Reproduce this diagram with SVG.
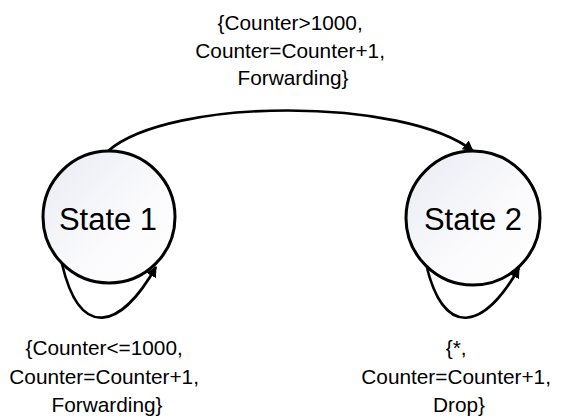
<svg xmlns="http://www.w3.org/2000/svg" width="563" height="419" viewBox="0 0 563 419">
  <defs>
    <linearGradient id="stateFill" x1="0" y1="0" x2="1" y2="1">
      <stop offset="0" stop-color="#e9ebf3"/>
      <stop offset="0.6" stop-color="#fbfbfd"/>
      <stop offset="1" stop-color="#ffffff"/>
    </linearGradient>
    <marker id="arrow" viewBox="0 0 10 10" refX="9" refY="5" markerWidth="4.2" markerHeight="4.2" orient="auto" markerUnits="strokeWidth">
      <path d="M0,0 L10,5 L0,10 z" fill="#000"/>
    </marker>
  </defs>
  <style>
    .state { fill: url(#stateFill); stroke: #000; stroke-width: 3; }
    .state-label { font-family: "Liberation Sans", Arial, sans-serif; font-size: 31px; fill: #000; text-anchor: middle; }
    .edge { fill: none; stroke: #000; stroke-width: 2.6; marker-end: url(#arrow); }
    .edge-label { font-family: "Liberation Sans", Arial, sans-serif; font-size: 20.8px; fill: #000; text-anchor: middle; }
  </style>

  <rect width="563" height="419" fill="#ffffff"/>

  <!-- transitions -->
  <g id="connectors">
    <path class="edge" d="M108,151 C170,97 405,97 473,151"/>
    <path class="edge" d="M62,264 C80,340 120,330 156,267"/>
    <path class="edge" d="M426,264 C444,340 484,330 519,268"/>
  </g>

  <g id="state1">
    <circle class="state" cx="109" cy="217" r="66"/>
    <text class="state-label" x="108" y="230">State 1</text>
  </g>

  <g id="state2">
    <circle class="state" cx="473" cy="218" r="67"/>
    <text class="state-label" x="473" y="230">State 2</text>
  </g>

  <g id="labels">
    <text class="edge-label" x="293" y="30">
      <tspan x="293">{Counter&gt;1000,</tspan>
      <tspan x="293" y="58">Counter=Counter+1,</tspan>
      <tspan x="293" y="85">Forwarding}</tspan>
    </text>
    <text class="edge-label" x="107" y="355">
      <tspan x="107">{Counter&lt;=1000,</tspan>
      <tspan x="107" y="383.5">Counter=Counter+1,</tspan>
      <tspan x="107" y="412">Forwarding}</tspan>
    </text>
    <text class="edge-label" x="459" y="355">
      <tspan x="459">{*,</tspan>
      <tspan x="459" y="383.5">Counter=Counter+1,</tspan>
      <tspan x="459" y="412">Drop}</tspan>
    </text>
  </g>
</svg>
